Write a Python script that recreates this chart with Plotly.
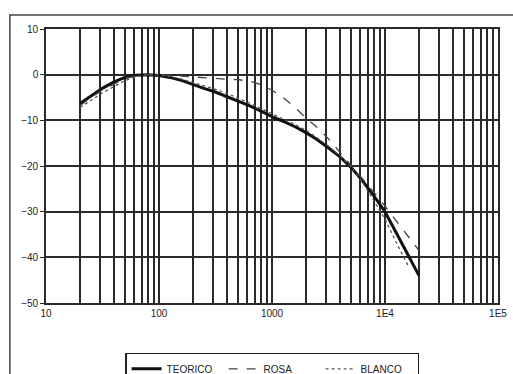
import plotly.graph_objects as go

freq = [20, 25, 31.5, 40, 50, 63, 80, 100, 125, 160, 200, 250, 315, 400, 500, 630,
        800, 1000, 1250, 1600, 2000, 2500, 3150, 4000, 5000, 6300, 8000, 10000,
        12500, 16000, 20000]

teorico = [-6.3, -4.6, -3.0, -1.6, -0.6, -0.1, 0.0, -0.2, -0.6, -1.3, -2.2, -3.0,
           -3.8, -4.8, -5.8, -6.8, -8.0, -9.2, -10.2, -11.4, -12.7, -14.2, -16.0,
           -18.0, -20.3, -23.2, -26.6, -30.0, -34.5, -39.5, -44.0]

rosa = [-6.8, -5.0, -3.4, -2.0, -0.8, -0.2, 0.0, 0.0, -0.1, -0.3, -0.5, -0.7,
        -0.9, -1.0, -1.1, -1.4, -2.2, -3.4, -5.0, -7.2, -9.5, -11.5, -14.0,
        -17.0, -19.8, -22.6, -25.8, -28.8, -32.0, -35.3, -38.5]

blanco = [-7.2, -5.6, -4.0, -2.6, -1.3, -0.4, 0.0, -0.1, -0.4, -1.0, -1.7, -2.4,
          -3.2, -4.1, -5.1, -6.2, -7.4, -8.6, -9.7, -10.9, -12.2, -13.8, -15.6,
          -17.8, -20.2, -23.5, -27.6, -31.6, -36.6, -41.8, None]

series_names = ["TEORICO", "ROSA", "BLANCO"]

x_major = [10, 100, 1000, 10000, 100000]
x_major_text = ["10", "100", "1000", "1E4", "1E5"]
y_ticks = [10, 0, -10, -20, -30, -40, -50]

# grid positions: every integer multiple within each decade
grid_vals = []
grid_text = []
for d in [10, 100, 1000, 10000]:
    for m in range(1, 10):
        v = d * m
        grid_vals.append(v)
        grid_text.append(x_major_text[x_major.index(v)] if v in x_major else "")
grid_vals.append(100000)
grid_text.append("1E5")

fig = go.Figure()
fig.add_trace(go.Scatter(x=freq, y=teorico, name=series_names[0], mode="lines",
                         line=dict(color="#111111", width=3)))
fig.add_trace(go.Scatter(x=freq, y=rosa, name=series_names[1], mode="lines",
                         line=dict(color="#444444", width=1.3, dash="dash")))
fig.add_trace(go.Scatter(x=freq, y=blanco, name=series_names[2], mode="lines",
                         line=dict(color="#555555", width=1.3, dash="dot")))

fig.update_layout(
    width=513, height=374,
    margin=dict(l=46, r=15, t=29, b=71, autoexpand=False),
    paper_bgcolor="white", plot_bgcolor="white",
    font=dict(family="Liberation Sans, Arial, sans-serif", size=10, color="#222222"),
    showlegend=True,
    legend=dict(orientation="h", x=0.175, xanchor="left", y=-0.182, yanchor="top",
                bordercolor="#222222", borderwidth=1.5, bgcolor="white",
                font=dict(size=10), entrywidth=52, entrywidthmode="pixels",
                tracegroupgap=0, itemwidth=30),
    xaxis=dict(type="log", range=[1, 5], tickvals=grid_vals, ticktext=grid_text,
               showgrid=True, gridcolor="#2a2a2a", gridwidth=1.6, zeroline=False,
               showline=True, linecolor="#2a2a2a", linewidth=1.6, mirror=True,
               ticks="", ticklen=0),
    yaxis=dict(range=[-50, 10], tickvals=y_ticks, showgrid=True, gridcolor="#2a2a2a",
               gridwidth=1.6, zeroline=False, showline=True, linecolor="#2a2a2a",
               linewidth=1.6, mirror=True, ticks="outside", ticklen=4,
               tickcolor="#2a2a2a"),
    shapes=[dict(type="rect", xref="paper", yref="paper",
                 x0=-0.08, x1=1.2, y0=-0.6, y1=1.051,
                 line=dict(color="#444444", width=1.5), layer="below")],
)

fig.write_html("out.html")
